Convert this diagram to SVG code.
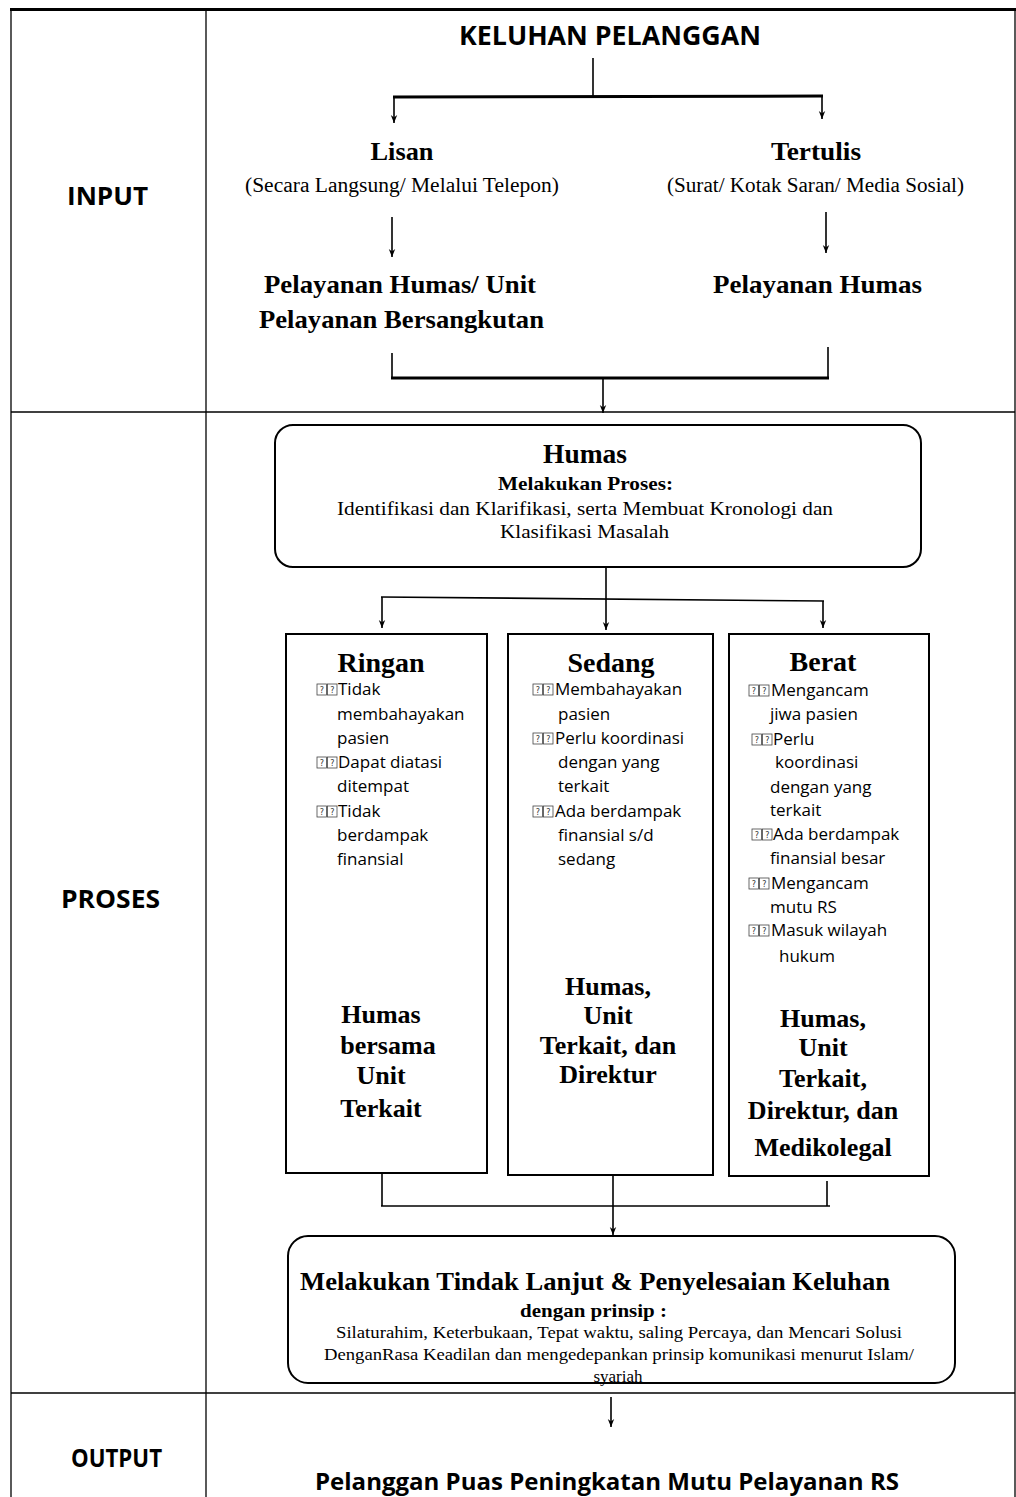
<svg xmlns="http://www.w3.org/2000/svg" width="1016" height="1497" viewBox="0 0 1016 1497">
<style>
.sans{font-family:"Open Sans","Liberation Sans",sans-serif;font-weight:bold;fill:#000}
.ser{font-family:"Liberation Serif","Times New Roman",serif;fill:#000}
.b{font-weight:bold}
.mid{text-anchor:middle}
.bul{font-family:"Open Sans","Liberation Sans",sans-serif;font-size:17px;fill:#000}
.ln{stroke:#000;fill:none;stroke-width:1.6}
.thick{stroke-width:3}
.box{fill:#fff;stroke:#000;stroke-width:2}
.grid{stroke:#000;stroke-width:1.3}
.tofu rect{fill:none;stroke:#444;stroke-width:0.8}
.tofu text{font-family:"DejaVu Sans",sans-serif;font-size:8px;fill:#333;text-anchor:middle}
</style>
<defs>
<marker id="arr" viewBox="0 0 10 10" refX="10" refY="5" markerWidth="8" markerHeight="9" markerUnits="userSpaceOnUse" orient="auto">
<path d="M0,1 L10,5 L0,9 L3,5 z" fill="#000"/>
</marker>
<g id="tofu" class="tofu">
<rect x="0" y="-11" width="9.5" height="11"/><text x="4.75" y="-2.5">?</text>
<rect x="10.5" y="-11" width="9.5" height="11"/><text x="15.25" y="-2.5">?</text>
</g>
</defs>
<rect width="1016" height="1497" fill="#fff"/>

<g id="table">
<line x1="10" y1="9.5" x2="1016" y2="9.5" stroke="#000" stroke-width="3"/>
<line class="grid" x1="11" y1="9" x2="11" y2="1497"/>
<line class="grid" x1="1015" y1="9" x2="1015" y2="1497"/>
<line class="grid" x1="206" y1="9" x2="206" y2="1497" stroke-width="1"/>
<line class="grid" x1="11" y1="412" x2="1015" y2="412"/>
<line class="grid" x1="11" y1="1393" x2="1015" y2="1393"/>
<text class="sans mid" x="107.5" y="205" font-size="25" textLength="81" lengthAdjust="spacingAndGlyphs">INPUT</text>
<text class="sans mid" x="110.5" y="908" font-size="25" textLength="99" lengthAdjust="spacingAndGlyphs">PROSES</text>
<text class="sans mid" x="116.5" y="1467" font-size="25" textLength="91" lengthAdjust="spacingAndGlyphs">OUTPUT</text>
</g>

<g id="connectors">
<line class="ln" x1="593" y1="58" x2="593" y2="97"/>
<line class="ln thick" x1="393" y1="97" x2="823" y2="96"/>
<line class="ln" x1="394" y1="97" x2="394" y2="123" marker-end="url(#arr)"/>
<line class="ln" x1="822" y1="96" x2="822" y2="119" marker-end="url(#arr)"/>
<line class="ln" x1="392" y1="217" x2="392" y2="257" marker-end="url(#arr)"/>
<line class="ln" x1="826" y1="212" x2="826" y2="253" stroke-width="2.2" marker-end="url(#arr)"/>
<line class="ln" x1="392" y1="353" x2="392" y2="378"/>
<line class="ln" x1="828" y1="347" x2="828" y2="378"/>
<line class="ln thick" x1="391" y1="378" x2="829" y2="378"/>
<line class="ln" x1="603" y1="378" x2="603" y2="413" marker-end="url(#arr)"/>
<line class="ln" x1="606" y1="567" x2="606" y2="630" marker-end="url(#arr)"/>
<line class="ln" x1="381" y1="597" x2="824" y2="601" stroke-width="2.2"/>
<line class="ln" x1="382" y1="597" x2="382" y2="628" marker-end="url(#arr)"/>
<line class="ln" x1="823" y1="601" x2="823" y2="628" marker-end="url(#arr)"/>
<line class="ln" x1="382" y1="1173" x2="382" y2="1206"/>
<line class="ln" x1="613" y1="1175" x2="613" y2="1235" marker-end="url(#arr)"/>
<line class="ln" x1="827" y1="1181" x2="827" y2="1206" stroke-width="2.6"/>
<line class="ln" x1="381" y1="1206" x2="830" y2="1206"/>
<line class="ln" x1="611" y1="1397" x2="611" y2="1427" marker-end="url(#arr)"/>
</g>

<g id="keluhan">
<text class="sans mid" x="610" y="45" font-size="26" textLength="302" lengthAdjust="spacingAndGlyphs">KELUHAN PELANGGAN</text>
</g>

<g id="lisan">
<text class="ser b mid" x="402" y="160" font-size="26" textLength="63" lengthAdjust="spacingAndGlyphs">Lisan</text>
<text class="ser mid" x="402" y="192" font-size="20" textLength="314" lengthAdjust="spacingAndGlyphs">(Secara Langsung/ Melalui Telepon)</text>
</g>

<g id="tertulis">
<text class="ser b mid" x="816" y="160" font-size="26" textLength="90" lengthAdjust="spacingAndGlyphs">Tertulis</text>
<text class="ser mid" x="815.5" y="192" font-size="20" textLength="297" lengthAdjust="spacingAndGlyphs">(Surat/ Kotak Saran/ Media Sosial)</text>
</g>

<g id="pelayanan-unit">
<text class="ser b mid" x="400" y="293" font-size="26" textLength="272" lengthAdjust="spacingAndGlyphs">Pelayanan Humas/ Unit</text>
<text class="ser b mid" x="401.5" y="328" font-size="26" textLength="285" lengthAdjust="spacingAndGlyphs">Pelayanan Bersangkutan</text>
</g>

<g id="pelayanan-humas">
<text class="ser b mid" x="817.5" y="293" font-size="26" textLength="209" lengthAdjust="spacingAndGlyphs">Pelayanan Humas</text>
</g>

<g id="humas">
<rect class="box" x="275" y="425" width="646" height="142" rx="18"/>
<text class="ser b mid" x="585" y="463" font-size="27" textLength="84" lengthAdjust="spacingAndGlyphs">Humas</text>
<text class="ser b mid" x="585.5" y="490" font-size="19" textLength="175" lengthAdjust="spacingAndGlyphs">Melakukan Proses:</text>
<text class="ser mid" x="585" y="515" font-size="19" textLength="496" lengthAdjust="spacingAndGlyphs">Identifikasi dan Klarifikasi, serta Membuat Kronologi dan</text>
<text class="ser mid" x="584.5" y="538" font-size="19" textLength="169" lengthAdjust="spacingAndGlyphs">Klasifikasi Masalah</text>
</g>

<g id="ringan">
<rect class="box" x="286" y="634" width="201" height="539"/>
<text class="ser b mid" x="381" y="672" font-size="28">Ringan</text>
<use href="#tofu" x="317" y="695"/>
<text class="bul" x="338" y="695">Tidak</text>
<text class="bul" x="337" y="720">membahayakan</text>
<text class="bul" x="337" y="744">pasien</text>
<use href="#tofu" x="317" y="768"/>
<text class="bul" x="338" y="768">Dapat diatasi</text>
<text class="bul" x="337" y="792">ditempat</text>
<use href="#tofu" x="317" y="817"/>
<text class="bul" x="338" y="817">Tidak</text>
<text class="bul" x="337" y="841">berdampak</text>
<text class="bul" x="337" y="865">finansial</text>
<text class="ser b mid" font-size="26"><tspan x="381" y="1023">Humas</tspan><tspan x="388" y="1054">bersama</tspan><tspan x="381" y="1084">Unit</tspan><tspan x="381" y="1117">Terkait</tspan></text>
</g>

<g id="sedang">
<rect class="box" x="508" y="634" width="205" height="541"/>
<text class="ser b mid" x="611" y="672" font-size="28">Sedang</text>
<use href="#tofu" x="533" y="695"/>
<text class="bul" x="555" y="695">Membahayakan</text>
<text class="bul" x="558" y="720">pasien</text>
<use href="#tofu" x="533" y="744"/>
<text class="bul" x="555" y="744">Perlu koordinasi</text>
<text class="bul" x="558" y="768">dengan yang</text>
<text class="bul" x="558" y="792">terkait</text>
<use href="#tofu" x="533" y="817"/>
<text class="bul" x="555" y="817">Ada berdampak</text>
<text class="bul" x="558" y="841">finansial s/d</text>
<text class="bul" x="558" y="865">sedang</text>
<text class="ser b mid" font-size="26"><tspan x="608" y="995">Humas,</tspan><tspan x="608" y="1024">Unit</tspan><tspan x="608" y="1054">Terkait, dan</tspan><tspan x="608" y="1083">Direktur</tspan></text>
</g>

<g id="berat">
<rect class="box" x="729" y="634" width="200" height="542"/>
<text class="ser b mid" x="823" y="671" font-size="28">Berat</text>
<use href="#tofu" x="749" y="696"/>
<text class="bul" x="771" y="696">Mengancam</text>
<text class="bul" x="770" y="720">jiwa pasien</text>
<use href="#tofu" x="752" y="745"/>
<text class="bul" x="773" y="745">Perlu</text>
<text class="bul" x="775" y="768">koordinasi</text>
<text class="bul" x="770" y="793">dengan yang</text>
<text class="bul" x="770" y="816">terkait</text>
<use href="#tofu" x="752" y="840"/>
<text class="bul" x="773" y="840">Ada berdampak</text>
<text class="bul" x="770" y="864">finansial besar</text>
<use href="#tofu" x="749" y="889"/>
<text class="bul" x="771" y="889">Mengancam</text>
<text class="bul" x="770" y="913">mutu RS</text>
<use href="#tofu" x="749" y="936"/>
<text class="bul" x="771" y="936">Masuk wilayah</text>
<text class="bul" x="779" y="962">hukum</text>
<text class="ser b mid" font-size="26"><tspan x="823" y="1027">Humas,</tspan><tspan x="823" y="1056">Unit</tspan><tspan x="823" y="1087">Terkait,</tspan><tspan x="823" y="1119">Direktur, dan</tspan><tspan x="823" y="1156">Medikolegal</tspan></text>
</g>

<g id="tindak-lanjut">
<rect class="box" x="288" y="1236" width="667" height="147" rx="20"/>
<text class="ser b mid" x="595" y="1290" font-size="25" textLength="590" lengthAdjust="spacingAndGlyphs">Melakukan Tindak Lanjut &amp; Penyelesaian Keluhan</text>
<text class="ser b mid" x="593.5" y="1317" font-size="19" textLength="147" lengthAdjust="spacingAndGlyphs">dengan prinsip :</text>
<text class="ser mid" x="619" y="1338" font-size="17" textLength="566" lengthAdjust="spacingAndGlyphs">Silaturahim, Keterbukaan, Tepat waktu, saling Percaya, dan Mencari Solusi</text>
<text class="ser mid" x="619" y="1360" font-size="17" textLength="590" lengthAdjust="spacingAndGlyphs">DenganRasa Keadilan dan mengedepankan prinsip komunikasi menurut Islam/</text>
<text class="ser mid" x="618" y="1382" font-size="17">syariah</text>
</g>

<g id="output">
<text class="sans mid" x="607" y="1490" font-size="23" textLength="584" lengthAdjust="spacingAndGlyphs">Pelanggan Puas Peningkatan Mutu Pelayanan RS</text>
</g>
</svg>
